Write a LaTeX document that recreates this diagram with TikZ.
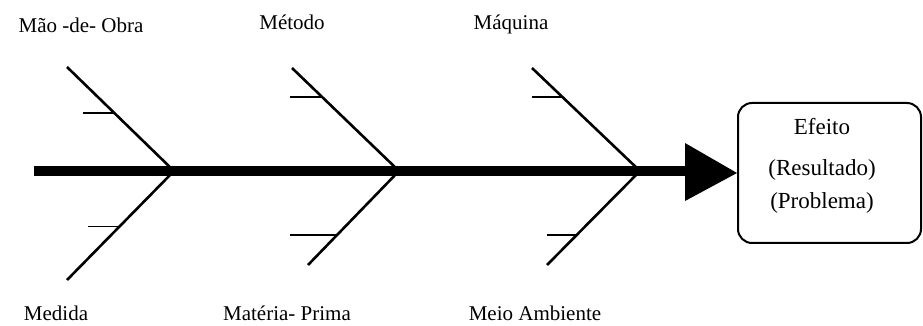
\documentclass[tikz,border=0pt]{standalone}
\usepackage{fontspec}
\setmainfont{Liberation Serif}
\usetikzlibrary{calc,positioning}

\begin{document}
\begin{tikzpicture}[x=0.5pt,y=-0.5pt,
	espinha/.style={line width=5pt},
	osso/.style={line width=1.3pt},
	ramo/.style={line width=0.8pt},
	rotulo/.style={font=\fontsize{10.5}{12}\selectfont,inner sep=0pt},
	caixa/.style={draw,line width=1pt,rounded corners=7pt,minimum width=91.5pt,minimum height=70pt,inner sep=0pt}]
	\useasboundingbox (0,0) rectangle (923,326);
	% 主干
	\coordinate (cauda) at (34,171);
	\coordinate (base) at (686,171);
	\draw[espinha] (cauda) -- (base);
	% 效果框
	\node[caixa] (efeito) at (829.5,173) {};
	\node[rotulo,font=\fontsize{11.5}{16.5}\selectfont,align=center] (texto) at (822,166) {Efeito\\[4pt](Resultado)\\(Problema)};
	\fill (685,143) -- (efeito.west) -- (685,201) -- cycle;
	% 骨
	\coordinate (j1) at (174,171);
	\coordinate (j2) at (399,171);
	\coordinate (j3) at (640,171);
	\coordinate (a1) at (67,67);
	\coordinate (a2) at (292,68);
	\coordinate (a3) at (532,68);
	\coordinate (b1) at (67,280);
	\coordinate (b2) at (308,265);
	\coordinate (b3) at (547,265);
	\draw[osso] (a1) -- (j1) -- (b1);
	\draw[osso] (a2) -- (j2) -- (b2);
	\draw[osso] (a3) -- (j3) -- (b3);
	% 小刺
	\draw[ramo] ($(a1)!0.44!(j1)$) -- ++(-31,0);
	\draw[ramo] ($(j1)!0.51!(b1)$) -- ++(-31,0);
	\draw[ramo] ($(a2)!0.28!(j2)$) -- ++(-32,0);
	\draw[ramo] ($(j2)!0.68!(b2)$) -- ++(-47,0);
	\draw[ramo] ($(a3)!0.28!(j3)$) -- ++(-30,0);
	\draw[ramo] ($(j3)!0.68!(b3)$) -- ++(-30,0);
	% 标签
	\node[rotulo] (maoobra) at (81,25) {Mão -de- Obra};
	\node[rotulo] (metodo) at (292,22) {Método};
	\node[rotulo] (maquina) at (511,24) {Máquina};
	\node[rotulo] (medida) at (56,313) {Medida};
	\node[rotulo] (materia) at (287,313) {Matéria- Prima};
	\node[rotulo] (meio) at (535,313) {Meio Ambiente};
\end{tikzpicture}
\end{document}
